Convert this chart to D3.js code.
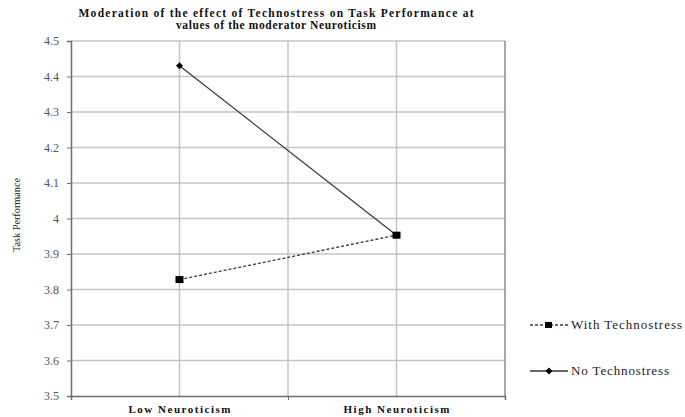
<!DOCTYPE html>
<html lang="en">
<head>
    <meta charset="UTF-8">
    <title>Moderation of the effect of Technostress on Task Performance</title>
    <script src="https://d3js.org/d3.v7.min.js"></script>
    <style>
        body {
            margin: 0;
            background: #fff;
        }
        svg text {
            font-family: "Liberation Serif", "Times New Roman", "DejaVu Serif", serif !important;
        }
        .grid line {
            stroke: #c4c4c4;
            stroke-width: 1.5;
        }
        .series {
            fill: none;
            stroke: #3a3a3a;
            stroke-width: 1.3;
        }
    </style>
</head>
<body>
    <svg width="685" height="417"></svg>

    <script>
        const categories = ["Low Neuroticism", "High Neuroticism"];
        const withTechnostress = [3.828, 3.953];
        const noTechnostress = [4.430, 3.953];
        const yTicks = [3.5, 3.6, 3.7, 3.8, 3.9, 4, 4.1, 4.2, 4.3, 4.4, 4.5];

        const margin = { top: 41, right: 180, bottom: 21, left: 71 };
        const width = 685 - margin.left - margin.right;
        const height = 417 - margin.top - margin.bottom;

        const svg = d3.select("svg")
            .append("g")
            .attr("transform", `translate(${margin.left}, ${margin.top})`);

        // categories sit on the 1st and 3rd of four equal divisions
        const x = d3.scaleLinear().domain([0, 4]).range([0, width]);
        const catX = i => x(1 + 2 * i);

        const y = d3.scaleLinear().domain([3.5, 4.5]).range([height, 0]);

        // horizontal grid
        svg.append("g").attr("class", "grid")
            .selectAll("line")
            .data(yTicks.slice(1))
            .join("line")
            .attr("x1", 0).attr("x2", width)
            .attr("y1", d => y(d)).attr("y2", d => y(d));

        // vertical grid
        svg.append("g").attr("class", "grid")
            .selectAll("line")
            .data([1, 2, 3])
            .join("line")
            .attr("x1", d => x(d)).attr("x2", d => x(d))
            .attr("y1", 0).attr("y2", height);

        // right border
        svg.append("line")
            .attr("x1", width).attr("x2", width)
            .attr("y1", 0).attr("y2", height)
            .attr("stroke", "#8c8c8c").attr("stroke-width", 1.5);

        // y axis
        const yAxis = svg.append("g")
            .call(d3.axisLeft(y).tickValues(yTicks).tickSize(4).tickPadding(8).tickFormat(d3.format("")));
        yAxis.select(".domain").attr("stroke", "#6e6e6e").attr("stroke-width", 1.5);
        yAxis.selectAll(".tick line").attr("stroke", "#6e6e6e");
        yAxis.selectAll(".tick text")
            .attr("fill", "#555")
            .style("font-size", "12px");

        // x axis
        const xAxis = svg.append("g")
            .attr("transform", `translate(0,${height})`)
            .call(d3.axisBottom(x).tickValues([2]).tickSize(4).tickFormat(""));
        xAxis.select(".domain").attr("stroke", "#6e6e6e").attr("stroke-width", 1.5);
        xAxis.selectAll(".tick line").attr("stroke", "#6e6e6e");

        svg.append("g")
            .selectAll("text")
            .data(categories)
            .join("text")
            .attr("x", (d, i) => catX(i))
            .attr("y", height + 17)
            .attr("text-anchor", "middle")
            .attr("textLength", (d, i) => i === 0 ? 102 : 106)
            .attr("lengthAdjust", "spacing")
            .style("font-size", "11px")
            .style("font-weight", "bold")
            .attr("fill", "#111")
            .text(d => d);

        // lines
        const line = d3.line()
            .x((d, i) => catX(i))
            .y(d => y(d));

        svg.append("path")
            .datum(withTechnostress)
            .attr("class", "series")
            .attr("stroke-dasharray", "3,2")
            .attr("d", line);

        svg.append("path")
            .datum(noTechnostress)
            .attr("class", "series")
            .attr("d", line);

        // markers
        svg.append("g")
            .selectAll("rect")
            .data(withTechnostress)
            .join("rect")
            .attr("x", (d, i) => catX(i) - 4)
            .attr("y", d => y(d) - 3.5)
            .attr("width", 8).attr("height", 7)
            .attr("fill", "#000");

        const diamond = d3.symbol().type(d3.symbolDiamond).size(22);
        svg.append("g")
            .selectAll("path")
            .data(noTechnostress)
            .join("path")
            .attr("transform", (d, i) => `translate(${catX(i)},${y(d)}) scale(1.4,0.8)`)
            .attr("d", diamond)
            .attr("fill", "#000");

        // title
        const title = d3.select("svg").append("g")
            .attr("font-weight", "bold")
            .style("font-size", "11.5px")
            .attr("fill", "#111")
            .attr("text-anchor", "middle");
        title.append("text")
            .attr("x", 276).attr("y", 17)
            .attr("textLength", 395).attr("lengthAdjust", "spacing")
            .text("Moderation  of the effect of Technostress on Task Performance at");
        title.append("text")
            .attr("x", 276).attr("y", 28.5)
            .attr("textLength", 200).attr("lengthAdjust", "spacing")
            .text("values of the moderator Neuroticism");

        // y label
        d3.select("svg").append("text")
            .attr("transform", "translate(20,215) rotate(-90)")
            .attr("text-anchor", "middle")
            .attr("textLength", 74).attr("lengthAdjust", "spacingAndGlyphs")
            .style("font-size", "11px")
            .attr("fill", "#222")
            .text("Task Performance");

        // legend
        const legend = d3.select("svg").append("g");
        const legendItems = [
            { label: "With Technostress", y: 325, dash: "3,2", marker: "square", len: 111 },
            { label: "No Technostress", y: 371, dash: null, marker: "diamond", len: 98 }
        ];
        legendItems.forEach(item => {
            legend.append("line")
                .attr("x1", 530).attr("x2", 568)
                .attr("y1", item.y).attr("y2", item.y)
                .attr("stroke", "#3a3a3a").attr("stroke-width", 1.3)
                .attr("stroke-dasharray", item.dash);
            if (item.marker === "square") {
                legend.append("rect")
                    .attr("x", 545).attr("y", item.y - 3)
                    .attr("width", 7).attr("height", 6)
                    .attr("fill", "#000");
            } else {
                legend.append("path")
                    .attr("transform", `translate(549,${item.y}) scale(1.4,0.8)`)
                    .attr("d", diamond)
                    .attr("fill", "#000");
            }
            legend.append("text")
                .attr("x", 571).attr("y", item.y + 4)
                .attr("textLength", item.len).attr("lengthAdjust", "spacing")
                .style("font-size", "13px")
                .attr("fill", "#222")
                .text(item.label);
        });
    </script>
</body>
</html>
